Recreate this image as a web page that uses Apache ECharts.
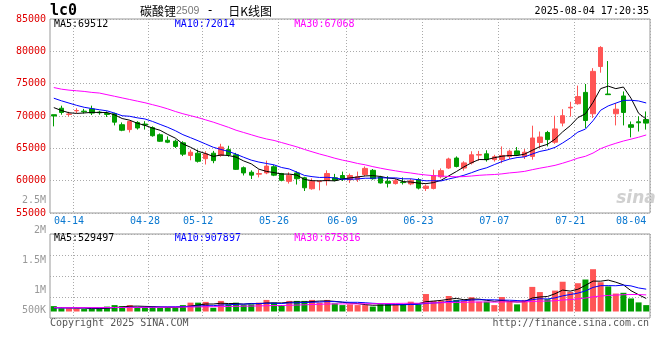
<!DOCTYPE html>
<html><head><meta charset="utf-8">
<script src="https://cdn.jsdelivr.net/npm/echarts@6/dist/echarts.min.js"></script>
<style>html,body{margin:0;padding:0;background:#fff}#c{width:660px;height:360px}</style>
</head><body><div id="c"></div>
<script>
const dates = ['2025-04-10','2025-04-11','2025-04-14','2025-04-15','2025-04-16','2025-04-17','2025-04-18','2025-04-21','2025-04-22','2025-04-23','2025-04-24','2025-04-25','2025-04-28','2025-04-29','2025-04-30',
'2025-05-06','2025-05-07','2025-05-08','2025-05-09','2025-05-12','2025-05-13','2025-05-14','2025-05-15','2025-05-16','2025-05-19','2025-05-20','2025-05-21','2025-05-22','2025-05-23','2025-05-26','2025-05-27','2025-05-28','2025-05-29','2025-05-30',
'2025-06-03','2025-06-04','2025-06-05','2025-06-06','2025-06-09','2025-06-10','2025-06-11','2025-06-12','2025-06-13','2025-06-16','2025-06-17','2025-06-18','2025-06-19','2025-06-20','2025-06-23','2025-06-24','2025-06-25','2025-06-26','2025-06-27','2025-06-30',
'2025-07-01','2025-07-02','2025-07-03','2025-07-04','2025-07-07','2025-07-08','2025-07-09','2025-07-10','2025-07-11','2025-07-14','2025-07-15','2025-07-16','2025-07-17','2025-07-18','2025-07-21','2025-07-22','2025-07-23','2025-07-24','2025-07-25','2025-07-28','2025-07-29','2025-07-30','2025-07-31',
'2025-08-01','2025-08-04'];

const opens  = [70200,71200,70250,70800,70750,71100,70600,70400,70350,68650,67900,69000,68750,68200,67100,66250,66100,65850,63900,64250,63400,64250,63900,64800,64000,62000,61300,61000,61200,62150,61100,59900,61200,60450,58750,59850,60000,60450,60800,60150,60200,60950,61600,60550,59900,59550,59800,59500,60150,58800,58800,60600,61950,63500,61950,62750,63950,64150,63250,63250,63750,64600,63750,63750,65900,67450,65950,68900,71250,71900,73650,70350,77650,73400,70350,73100,68650,69100,69450];
const closes = [70000,70550,70300,70850,70650,70450,70500,70250,69050,67800,69150,68150,68600,66950,66100,65950,65300,64100,64400,63000,64150,63100,65200,64000,61750,61200,60850,61100,62250,60850,60050,60850,60300,58900,59900,59900,61100,60050,60300,60800,60600,61900,60300,59650,59600,60000,59700,60000,58850,59150,60800,61550,63350,62200,62750,64000,64050,63250,63700,63900,64550,64000,64400,66600,66750,66350,68000,70050,71350,73000,69300,76900,80600,73300,71050,70550,68250,68950,68900];
const lows   = [68400,70200,69950,70450,70400,70150,70200,69850,68550,67650,67450,67900,67900,66800,66000,65800,65050,63800,63150,62800,62500,62700,63700,63700,61650,60800,60250,60500,61000,60700,59900,59550,59400,58400,58600,58500,59250,59900,59950,59650,59800,60700,60150,59550,58950,59400,59400,59300,58650,58400,58650,60350,61800,62050,61550,62500,63100,62950,62950,62700,63350,63850,63350,63250,65050,65300,65700,68400,69900,71750,68150,69700,76700,73300,68550,68550,66700,67600,67900];
const highs  = [70200,71600,70650,71200,71100,71600,70800,70700,70500,69000,69300,69200,69200,68400,67300,66850,66350,66100,64800,64800,64550,64600,65700,65400,64300,62200,61600,61700,63100,62400,61200,61300,61450,60600,60350,60050,61600,61050,61400,61100,61400,62200,61800,60750,60700,60300,60500,60300,60400,59400,61700,61900,63550,63750,63000,64550,64600,64700,64000,65300,64800,65200,64900,68500,67600,67700,70050,71050,72200,74700,74950,77400,80800,78500,72000,73800,69150,69950,70700];

const ma5  = [71300,70850,70500,70400,70470,70560,70550,70540,70180,69610,69350,68880,68550,68130,67790,67150,66580,65680,65170,64550,64190,63750,63970,63890,63640,63050,62600,61780,61430,61250,61020,61020,60860,60190,60000,59970,60020,59970,60250,60430,60570,60730,60780,60650,60410,60290,59850,59790,59630,59540,59700,60070,60740,61410,62130,62770,63270,63250,63550,63780,63890,63880,64110,64690,65260,65620,66420,67550,68500,69750,70340,72120,74230,74620,74230,74480,72750,70420,69512];
const ma10 = [72750,72350,72000,71650,71350,71150,70970,70800,70450,70040,69955,69715,69545,69155,68700,68250,67730,67115,66650,66170,65670,65165,64825,64530,64095,63620,63175,62875,62660,62445,62035,61810,61320,60810,60625,60495,60520,60415,60220,60215,60270,60375,60375,60450,60420,60430,60290,60285,60140,59975,59995,59960,60265,60520,60835,61235,61670,61995,62480,62955,63330,63575,63680,64120,64520,64755,65150,65830,66595,67505,67980,69270,70890,71560,71990,72410,72435,72325,72014];
const ma30 = [74400,74150,74000,73900,73800,73650,73550,73300,73050,72800,72550,72300,72050,71750,71450,71100,70700,70350,70050,69750,69400,69050,68650,68250,67800,67450,67100,66750,66450,66220,65890,65560,65230,64830,64470,64120,63810,63470,63180,62940,62660,62450,62170,61930,61710,61520,61330,61190,61010,60880,60770,60720,60650,60590,60630,60720,60830,60900,60950,61050,61200,61300,61440,61700,61930,62140,62370,62700,63070,63480,63770,64270,64950,65400,65780,66130,66420,66720,67068];

const volumes = [220000,130000,130000,120000,100000,110000,130000,200000,260000,220000,260000,150000,150000,220000,150000,180000,150000,260000,360000,360000,390000,150000,430000,290000,360000,260000,290000,360000,470000,360000,260000,430000,430000,430000,470000,360000,470000,330000,260000,290000,260000,260000,200000,290000,300000,300000,290000,400000,290000,710000,430000,430000,630000,470000,430000,580000,400000,400000,260000,590000,400000,290000,470000,1000000,790000,500000,850000,1210000,800000,1150000,1300000,1720000,1190000,1020000,730000,760000,530000,370000,260000];
const volMa5  = [160000,150000,150000,140000,140000,118000,118000,132000,160000,184000,214000,218000,208000,200000,186000,170000,170000,192000,220000,262000,304000,304000,338000,324000,324000,298000,326000,312000,348000,348000,348000,376000,390000,382000,404000,424000,432000,412000,378000,342000,322000,280000,254000,260000,262000,270000,276000,316000,316000,398000,424000,452000,498000,534000,478000,508000,502000,456000,414000,446000,410000,388000,402000,550000,590000,610000,722000,870000,830000,902000,1062000,1236000,1232000,1276000,1192000,1084000,846000,682000,529497];
const volMa10 = [150000,150000,150000,150000,150000,150000,150000,155000,160000,162000,166000,168000,170000,180000,185000,192000,194000,200000,210000,224000,237000,237000,265000,272000,293000,301000,315000,325000,336000,336000,323000,351000,351000,365000,376000,386000,404000,401000,380000,373000,373000,356000,333000,319000,302000,296000,278000,285000,288000,330000,347000,364000,407000,425000,438000,466000,477000,477000,474000,462000,459000,445000,429000,482000,518000,510000,555000,636000,690000,746000,836000,979000,1051000,1053000,1047000,1073000,1041000,957000,907897];
const volMa30 = [155000,155000,155000,156000,157000,158000,159000,160000,162000,164000,166000,168000,170000,172000,174000,176000,178000,180000,184000,188000,192000,196000,200000,205000,210000,215000,220000,228000,235000,241000,242000,252000,262000,272000,285000,293000,304000,309000,309000,311000,311000,315000,316000,319000,324000,328000,332000,337000,335000,346000,348000,357000,364000,370000,372000,383000,386000,388000,381000,388000,393000,388000,390000,409000,419000,424000,437000,466000,484000,513000,547000,596000,629000,653000,668000,683000,691000,690000,675816];

const priceMaLast = [69512, 72014, 67068];
const volMaLast = [529497, 907897, 675816];
const dateTickLabels = ['04-14','04-28','05-12','05-26','06-09','06-23','07-07','07-21','08-04'];
const volTickValues = [500000, 1000000, 1500000, 2000000, 2500000];
const volTickLabels = ['500K', '1M', '1.5M', '2M', '2.5M'];
const priceTicks = [55000, 60000, 65000, 70000, 75000, 80000, 85000];

const UP = '#ff5555', DOWN = '#009c00';
const MA_COLORS = ['#000000', '#0000ff', '#ff00ff'];
const MONO = '"DejaVu Sans Mono", monospace';
const GRIDLINE = {color: '#aaaaaa', width: 1, type: [1, 2]};

const labelIdx = dateTickLabels.map(l => dates.findIndex(d => d.slice(5) === l));
const splitIdx = labelIdx.map(i => i + 1);

const candleData = dates.map((d, i) => [opens[i], closes[i], lows[i], highs[i]]);
const volData = volumes.map((v, i) => ({value: v, itemStyle: {color: closes[i] >= opens[i] ? UP : DOWN}}));

function maLine(data, color, xi, yi) {
  return {type: 'line', data: data, xAxisIndex: xi, yAxisIndex: yi, symbol: 'none', silent: true,
    lineStyle: {color: color, width: 1}, z: 5};
}

const chart = echarts.init(document.getElementById('c'), null, {renderer: 'canvas'});
const fmtVol = v => volTickLabels[volTickValues.indexOf(v)] || '';

chart.setOption({
  animation: false,
  backgroundColor: '#ffffff',
  grid: [
    {left: 50, top: 19, width: 600, height: 194, show: true, borderColor: '#999', borderWidth: 1, backgroundColor: 'transparent'},
    {left: 50, top: 234, width: 600, height: 84, show: true, borderColor: '#999', borderWidth: 1, backgroundColor: 'transparent'},
    {left: 50, top: 200.7, width: 600, height: 120, show: false}
  ],
  xAxis: [
    {gridIndex: 0, type: 'category', data: dates, boundaryGap: true,
      axisLine: {show: false}, axisTick: {show: false},
      axisLabel: {interval: (i) => labelIdx.includes(i), formatter: v => v.slice(5), color: '#0a78d0',
        fontFamily: MONO, fontSize: 10, margin: 3, alignMaxLabel: 'right'},
      splitLine: {show: true, interval: (i) => splitIdx.includes(i), lineStyle: GRIDLINE}},
    {gridIndex: 1, type: 'category', data: dates, boundaryGap: true,
      axisLine: {show: false}, axisTick: {show: false}, axisLabel: {show: false},
      splitLine: {show: true, interval: (i) => splitIdx.includes(i), lineStyle: GRIDLINE}},
    {gridIndex: 2, type: 'category', data: dates, show: false}
  ],
  yAxis: [
    {gridIndex: 0, type: 'value', min: priceTicks[0], max: priceTicks[priceTicks.length - 1], interval: 5000,
      axisLine: {show: false}, axisTick: {show: false},
      axisLabel: {color: '#e00000', fontFamily: MONO, fontSize: 10, margin: 4, formatter: v => String(v)},
      splitLine: {show: true, lineStyle: GRIDLINE}},
    {gridIndex: 1, type: 'value', min: -264000, max: 3150000,
      axisLine: {show: false}, axisTick: {show: false}, axisLabel: {show: false}, splitLine: {show: false}},
    {gridIndex: 1, type: 'value', min: 0, max: 4, interval: 1,
      axisLine: {show: false}, axisTick: {show: false}, axisLabel: {show: false},
      splitLine: {show: true, lineStyle: GRIDLINE}},
    {gridIndex: 2, type: 'value', min: 500000, max: 2500000, interval: 500000,
      axisLine: {show: false}, axisTick: {show: false}, splitLine: {show: false},
      axisLabel: {color: '#999999', fontFamily: MONO, fontSize: 10, margin: 4,
        formatter: v => v === volTickValues[0] ? '{lift|' + fmtVol(v) + '}' : fmtVol(v),
        rich: {lift: {color: '#999999', fontFamily: MONO, fontSize: 10, padding: [0, 0, 20, 0]}}}}
  ],
  series: [
    {type: 'candlestick', xAxisIndex: 0, yAxisIndex: 0, data: candleData, barWidth: 5,
      itemStyle: {color: UP, color0: DOWN, borderColor: UP, borderColor0: DOWN, borderWidth: 1}, z: 3},
    maLine(ma5, MA_COLORS[0], 0, 0),
    maLine(ma10, MA_COLORS[1], 0, 0),
    maLine(ma30, MA_COLORS[2], 0, 0),
    {type: 'bar', xAxisIndex: 1, yAxisIndex: 1, data: volData, barWidth: 6, z: 3},
    maLine(volMa5, MA_COLORS[0], 1, 1),
    maLine(volMa10, MA_COLORS[1], 1, 1),
    maLine(volMa30, MA_COLORS[2], 1, 1)
  ],
  graphic: [
    {type: 'text', x: 50, y: 11.5, style: {text: 'lc0', font: 'bold 15px ' + MONO, fill: '#000', verticalAlign: 'middle'}},
    {type: 'text', x: 140, y: 11, style: {text: '{a|碳酸锂}{b|2509}{c| -  }{a|日K线图}', verticalAlign: 'middle',
      rich: {a: {font: '12px "Noto Sans CJK SC"', fill: '#000'}, b: {font: '10.5px "Liberation Sans"', fill: '#777'}, c: {font: '12px ' + MONO, fill: '#000'}}}},
    {type: 'text', x: 649, y: 11.7, style: {text: '2025-08-04 17:20:35', font: '10px ' + MONO, fill: '#000', align: 'right', verticalAlign: 'middle'}},
    {type: 'text', x: 54, y: 24, style: {text: 'MA5:' + priceMaLast[0], font: '10px ' + MONO, fill: MA_COLORS[0], verticalAlign: 'middle'}},
    {type: 'text', x: 174.7, y: 24, style: {text: 'MA10:' + priceMaLast[1], font: '10px ' + MONO, fill: MA_COLORS[1], verticalAlign: 'middle'}},
    {type: 'text', x: 294.3, y: 24, style: {text: 'MA30:' + priceMaLast[2], font: '10px ' + MONO, fill: MA_COLORS[2], verticalAlign: 'middle'}},
    {type: 'text', x: 54, y: 238.3, style: {text: 'MA5:' + volMaLast[0], font: '10px ' + MONO, fill: MA_COLORS[0], verticalAlign: 'middle'}},
    {type: 'text', x: 174.7, y: 238.3, style: {text: 'MA10:' + volMaLast[1], font: '10px ' + MONO, fill: MA_COLORS[1], verticalAlign: 'middle'}},
    {type: 'text', x: 294.3, y: 238.3, style: {text: 'MA30:' + volMaLast[2], font: '10px ' + MONO, fill: MA_COLORS[2], verticalAlign: 'middle'}},
    {type: 'text', x: 50, y: 323.3, style: {text: 'Copyright 2025 SINA.COM', font: '10px ' + MONO, fill: '#555', verticalAlign: 'middle'}},
    {type: 'text', x: 649, y: 323.3, style: {text: 'http://finance.sina.com.cn', font: '10px ' + MONO, fill: '#555', align: 'right', verticalAlign: 'middle'}},
    {type: 'text', x: 636, y: 199, z: 0, style: {text: 'sina', font: 'italic bold 17px "DejaVu Sans"', fill: '#d0d0d0', align: 'center', verticalAlign: 'middle'}}
  ]
});
</script>
</body></html>
